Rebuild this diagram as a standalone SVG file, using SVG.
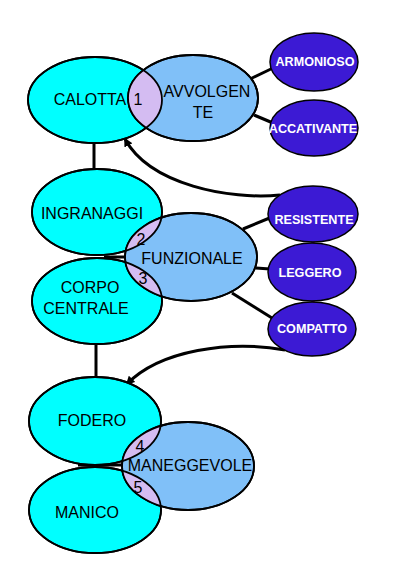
<svg xmlns="http://www.w3.org/2000/svg" width="400" height="572" viewBox="0 0 400 572">
<style>
.main{fill:#00ffff;stroke:#000;stroke-width:1.8}
.feat{fill:#80c0f8;stroke:#000;stroke-width:1.8}
.lens{fill:#d4bcf2;stroke:none}
.out{fill:none;stroke:#000;stroke-width:1.8}
.prop{fill:#3c1ad4;stroke:#000;stroke-width:1.5}
.t{font-family:"Liberation Sans",Arial,sans-serif;font-size:16px;fill:#000;text-anchor:middle}
.w{font-family:"Liberation Sans",Arial,sans-serif;font-size:12.6px;font-weight:bold;fill:#fff;text-anchor:middle}
.ln{stroke:#000;stroke-width:3;fill:none}
.pk{stroke:#e030a0;stroke-width:3.5;fill:none}
</style>
<defs>
<clipPath id="cCal"><ellipse cx="95" cy="100" rx="67" ry="43"/></clipPath>
<clipPath id="cIng"><ellipse cx="97" cy="212" rx="65" ry="43"/></clipPath>
<clipPath id="cCor"><ellipse cx="97" cy="301" rx="65" ry="43"/></clipPath>
<clipPath id="cFod"><ellipse cx="95" cy="421" rx="66" ry="44"/></clipPath>
<clipPath id="cMan"><ellipse cx="95" cy="510" rx="66" ry="43"/></clipPath>
<marker id="ah" viewBox="0 0 10 10" refX="8" refY="5" markerWidth="3" markerHeight="3" orient="auto"><path d="M0,0L10,5L0,10z" fill="#000"/></marker>
</defs>
<g id="connectors">
<line class="ln" x1="94" y1="143" x2="94" y2="170"/>
<line class="ln" x1="96" y1="344" x2="96" y2="378"/>
<line class="ln" x1="250" y1="79" x2="273" y2="68"/>
<line class="ln" x1="254" y1="115" x2="273" y2="123"/>
<line class="ln" x1="243" y1="229" x2="272" y2="217"/>
<line class="ln" x1="256" y1="268" x2="270" y2="269"/>
<line class="ln" x1="232" y1="293" x2="272" y2="318"/>
<line class="ln" x1="104" y1="257" x2="127" y2="257"/>
<line class="ln" x1="78" y1="465" x2="124" y2="465"/>
<path class="ln" d="M280,195 C230,200 150,185 125,139" marker-end="url(#ah)"/>
<path class="ln" d="M285,350 C230,340 160,350 127,384" marker-end="url(#ah)"/>
<line class="pk" x1="313" y1="234" x2="313" y2="250"/>
<line class="pk" x1="313" y1="293" x2="313" y2="311"/>
</g>
<g id="calotta"><ellipse class="main" cx="95" cy="100" rx="67" ry="43"/><text class="t" x="90" y="105">CALOTTA</text></g>
<g id="avvolgente"><ellipse class="feat" cx="193" cy="98" rx="65" ry="43"/><ellipse class="lens" cx="193" cy="98" rx="65" ry="43" clip-path="url(#cCal)"/><ellipse class="out" cx="95" cy="100" rx="67" ry="43"/><ellipse class="out" cx="193" cy="98" rx="65" ry="43"/><text class="t" x="207" y="97">AVVOLGEN</text><text class="t" x="203" y="118">TE</text><text class="t" x="138" y="105">1</text></g>
<g id="armonioso"><ellipse class="prop" cx="314" cy="62" rx="44" ry="29"/><text class="w" x="315" y="66">ARMONIOSO</text></g>
<g id="accativante"><ellipse class="prop" cx="314" cy="128" rx="44" ry="28"/><text class="w" x="313" y="133">ACCATIVANTE</text></g>
<g id="ingranaggi"><ellipse class="main" cx="97" cy="212" rx="65" ry="43"/><text class="t" x="92" y="219">INGRANAGGI</text></g>
<g id="corpo"><ellipse class="main" cx="97" cy="301" rx="65" ry="43"/><text class="t" x="90" y="293">CORPO</text><text class="t" x="86" y="314">CENTRALE</text></g>
<g id="funzionale"><ellipse class="feat" cx="191" cy="257" rx="66" ry="44"/><ellipse class="lens" cx="191" cy="257" rx="66" ry="44" clip-path="url(#cIng)"/><ellipse class="lens" cx="191" cy="257" rx="66" ry="44" clip-path="url(#cCor)"/><ellipse class="out" cx="97" cy="212" rx="65" ry="43"/><ellipse class="out" cx="97" cy="301" rx="65" ry="43"/><ellipse class="out" cx="191" cy="257" rx="66" ry="44"/><text class="t" x="192" y="264">FUNZIONALE</text><text class="t" x="141" y="245">2</text><text class="t" x="143" y="284">3</text></g>
<g id="resistente"><ellipse class="prop" cx="313" cy="214" rx="45" ry="28"/><text class="w" x="314" y="224">RESISTENTE</text></g>
<g id="leggero"><ellipse class="prop" cx="312" cy="272" rx="44" ry="29"/><text class="w" x="310" y="277">LEGGERO</text></g>
<g id="compatto"><ellipse class="prop" cx="312" cy="329" rx="44" ry="27"/><text class="w" x="312" y="333">COMPATTO</text></g>
<g id="fodero"><ellipse class="main" cx="95" cy="421" rx="66" ry="44"/><text class="t" x="92" y="426">FODERO</text></g>
<g id="manico"><ellipse class="main" cx="95" cy="510" rx="66" ry="43"/><text class="t" x="87" y="518">MANICO</text></g>
<g id="maneggevole"><ellipse class="feat" cx="188" cy="466" rx="66" ry="44"/><ellipse class="lens" cx="188" cy="466" rx="66" ry="44" clip-path="url(#cFod)"/><ellipse class="lens" cx="188" cy="466" rx="66" ry="44" clip-path="url(#cMan)"/><ellipse class="out" cx="95" cy="421" rx="66" ry="44"/><ellipse class="out" cx="95" cy="510" rx="66" ry="43"/><ellipse class="out" cx="188" cy="466" rx="66" ry="44"/><text class="t" x="190" y="471">MANEGGEVOLE</text><text class="t" x="140" y="452">4</text><text class="t" x="138" y="493">5</text></g>
</svg>
